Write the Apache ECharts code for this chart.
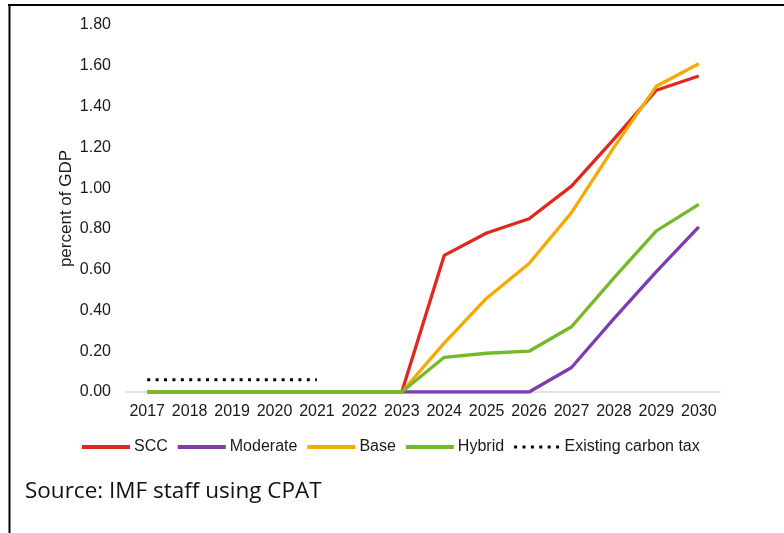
<!DOCTYPE html>
<html>
<head>
<meta charset="utf-8">
<script src="https://cdn.jsdelivr.net/npm/echarts@6/dist/echarts.min.js"></script>
<style>
  html, body { margin: 0; padding: 0; background: #fff; }
  #chart { width: 784px; height: 533px; }
</style>
</head>
<body>
<div id="chart"></div>
<script>
// Carbon tax revenue scenarios, percent of GDP
const years = ['2017','2018','2019','2020','2021','2022','2023','2024','2025','2026','2027','2028','2029','2030'];
const scc      = [0, 0, 0, 0, 0, 0, 0, 0.67, 0.78, 0.85, 1.01, 1.24, 1.48, 1.55];
const moderate = [0, 0, 0, 0, 0, 0, 0, 0, 0, 0, 0.12, 0.36, 0.59, 0.81];
const base     = [0, 0, 0, 0, 0, 0, 0, 0.24, 0.46, 0.63, 0.88, 1.20, 1.50, 1.61];
const hybrid   = [0, 0, 0, 0, 0, 0, 0, 0.17, 0.19, 0.20, 0.32, 0.56, 0.79, 0.92];
const existing = [0.06, 0.06, 0.06, 0.06, 0.06, null, null, null, null, null, null, null, null, null];
const yTicks = { min: 0, max: 1.8, step: 0.2 };

const FONT = 'Liberation Sans, Arial, sans-serif';

// legend glyphs: a solid bar and a row of six square dots
const SOLID_ICON = 'path://M0,0h48v4h-48z';
const DOTS_ICON = 'path://M0,0.5h3v3h-3z M8.4,0.5h3v3h-3z M16.8,0.5h3v3h-3z M25.2,0.5h3v3h-3z M33.6,0.5h3v3h-3z M42,0.5h3v3h-3z M0,0h0.01v4h-0.01z';

function lineSeries(name, data, color, extra) {
  return Object.assign({
    name: name,
    type: 'line',
    data: data,
    symbol: 'none',
    color: color,
    lineStyle: { color: color, width: 3.3 },
    silent: true,
    animation: false
  }, extra || {});
}

const chart = echarts.init(document.getElementById('chart'), null, { renderer: 'canvas' });
chart.setOption({
  backgroundColor: '#ffffff',
  animation: false,
  grid: { left: 126, right: 64, top: 25, bottom: 141 },
  legend: {
    left: 77,
    top: 434,
    itemWidth: 48,
    itemHeight: 4,
    itemGap: 10,
    textStyle: { fontFamily: FONT, fontSize: 16, color: '#1a1a1a', padding: [0, 0, 0, -1] },
    data: [
      { name: 'SCC', icon: SOLID_ICON },
      { name: 'Moderate', icon: SOLID_ICON },
      { name: 'Base', icon: SOLID_ICON },
      { name: 'Hybrid', icon: SOLID_ICON },
      { name: 'Existing carbon tax', icon: DOTS_ICON }
    ]
  },
  xAxis: {
    type: 'category',
    data: years,
    boundaryGap: true,
    axisLine: { lineStyle: { color: '#d9d9d9', width: 1.5 } },
    axisTick: { show: false },
    axisLabel: { fontFamily: FONT, fontSize: 16, color: '#1a1a1a', margin: 12, interval: 0 }
  },
  yAxis: {
    type: 'value',
    min: yTicks.min,
    max: yTicks.max,
    interval: yTicks.step,
    name: 'percent of GDP',
    nameLocation: 'middle',
    nameGap: 51,
    nameMoveOverlap: false,
    nameTextStyle: { fontFamily: FONT, fontSize: 17, color: '#1a1a1a' },
    axisLine: { show: false },
    axisTick: { show: false },
    splitLine: { show: false },
    axisLabel: {
      fontFamily: FONT, fontSize: 16, color: '#1a1a1a', margin: 15,
      formatter: v => v.toFixed(2)
    }
  },
  series: [
    lineSeries('SCC', scc, '#df281e'),
    lineSeries('Moderate', moderate, '#7d3cb0'),
    lineSeries('Base', base, '#f5aa00'),
    lineSeries('Hybrid', hybrid, '#74b928'),
    lineSeries('Existing carbon tax', existing, '#000000', {
      lineStyle: { color: '#000000', width: 3, type: [3, 5.4] }
    })
  ],
  graphic: [
    // frame
    { type: 'line', shape: { x1: 8, y1: 5, x2: 784, y2: 5 }, style: { stroke: '#000', lineWidth: 2 }, silent: true },
    { type: 'line', shape: { x1: 9.5, y1: 4, x2: 9.5, y2: 533 }, style: { stroke: '#000', lineWidth: 2 }, silent: true },
    // source note
    {
      type: 'text', left: 25, top: 480, silent: true,
      style: { text: 'Source: IMF staff using CPAT', font: '22.5px "Open Sans", "Noto Sans", sans-serif', fill: '#111' }
    }
  ]
});
</script>
</body>
</html>
